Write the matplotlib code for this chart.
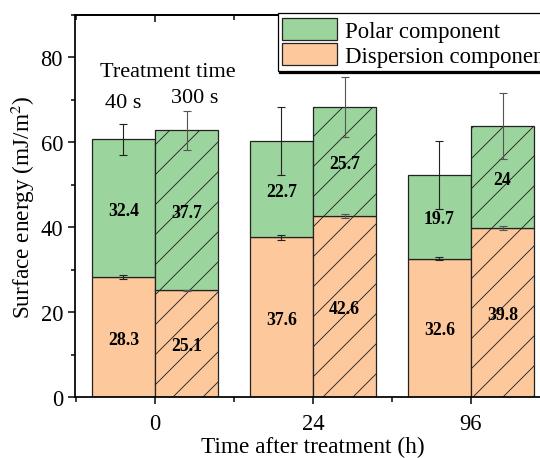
"""
Surface energy of treated samples split into polar and dispersion parts,
for two treatment times, measured at several times after treatment.
"""
import numpy as np
import matplotlib.pyplot as plt
from matplotlib.patches import Patch
from matplotlib.ticker import MultipleLocator

# Hours after treatment (x categories)
HOURS = ["0", "24", "96"]

# Dispersion component (mJ/m2) and its error
DISP_40 = [28.3, 37.6, 32.6]
DISP_300 = [25.1, 42.6, 39.8]
DISP_40_ERR = [0.4, 0.5, 0.4]
DISP_300_ERR = [0.2, 0.5, 0.4]

# Polar component (mJ/m2); error is on the total surface energy
POLAR_40 = [32.4, 22.7, 19.7]
POLAR_300 = [37.7, 25.7, 24.0]
TOTAL_40_ERR = [3.6, 8.1, 8.0]
TOTAL_300_ERR = [4.5, 7.1, 7.8]

GREEN = "#9bd49c"
ORANGE = "#fdc89c"

plt.rcParams["font.family"] = ["Liberation Serif", "DejaVu Serif"]
plt.rcParams["mathtext.fontset"] = "stix"
plt.rcParams["hatch.linewidth"] = 0.35
plt.rcParams["hatch.color"] = "#333333"


def draw_series(ax, xpos, disp, polar, disp_err, total_err, hatch, err_color):
    """ Draws one stacked bar series with its error bars and value labels.
    """
    width = 0.4
    ax.bar(xpos, disp, width, color=ORANGE, edgecolor="#222222",
           linewidth=0.5, hatch=hatch, align="edge")
    ax.bar(xpos, polar, width, bottom=disp, color=GREEN, edgecolor="#222222",
           linewidth=0.5, hatch=hatch, align="edge")
    centers = xpos + width / 2
    totals = np.array(disp) + np.array(polar)
    ax.errorbar(centers, disp, yerr=disp_err, fmt="none", ecolor=err_color,
                elinewidth=0.45, capsize=1.6, capthick=0.45)
    ax.errorbar(centers, totals, yerr=total_err, fmt="none", ecolor=err_color,
                elinewidth=0.45, capsize=1.6, capthick=0.45)
    for cx, d, p in zip(centers, disp, polar):
        ax.text(cx, d / 2 - 0.5, f"{d:g}", ha="center", va="center",
                fontsize=7.1, fontweight="bold")
        ax.text(cx, d + p / 2 - 0.5, f"{p:g}", ha="center", va="center",
                fontsize=7.1, fontweight="bold")


fig = plt.figure(figsize=(3.0, 2.55), dpi=180)
ax = fig.add_axes([0.1389, 0.1329, 0.8795, 0.8322])

x = np.arange(len(HOURS))
draw_series(ax, x - 0.4, DISP_40, POLAR_40, DISP_40_ERR, TOTAL_40_ERR,
            None, "#222222")
draw_series(ax, x, DISP_300, POLAR_300, DISP_300_ERR, TOTAL_300_ERR,
            "//", "#555555")

ax.set_xlim(-0.506, 2.5)
ax.set_ylim(0, 90)
ax.set_xticks(x)
ax.set_xticklabels(HOURS)
ax.xaxis.set_minor_locator(MultipleLocator(0.5))
ax.yaxis.set_major_locator(MultipleLocator(20))
ax.yaxis.set_minor_locator(MultipleLocator(10))
ax.tick_params(axis="both", which="major", labelsize=9, width=0.6,
               length=2.8, direction="out", pad=2)
ax.tick_params(axis="x", which="major", pad=3.5)
ax.tick_params(axis="both", which="minor", width=0.6, length=1.8,
               direction="out")
for spine in ax.spines.values():
    spine.set_linewidth(0.7)

# top ticks point into the plot
secx = ax.secondary_xaxis("top")
secx.set_xticks(x)
secx.xaxis.set_minor_locator(MultipleLocator(0.5))
secx.tick_params(which="major", direction="in", length=2.8, width=0.6,
                 labeltop=False)
secx.tick_params(which="minor", direction="in", length=1.8, width=0.6)
secx.spines["top"].set_linewidth(0.7)

ax.set_xlabel("Time after treatment (h)", fontsize=9.3, labelpad=1)
ax.set_ylabel("Surface energy (mJ/m$^2$)", fontsize=9.3, labelpad=1.5)

ax.text(0.08, 76.7, "Treatment time", ha="center", va="center", fontsize=8.9)
ax.text(-0.2, 69.4, "40 s", ha="center", va="center", fontsize=8.9)
ax.text(0.25, 70.6, "300 s", ha="center", va="center", fontsize=8.9)

handles = [Patch(facecolor=GREEN, edgecolor="#222222", linewidth=0.5),
           Patch(facecolor=ORANGE, edgecolor="#222222", linewidth=0.5)]
leg = ax.legend(handles, ["Polar component", "Dispersion component"],
                loc="upper left", bbox_to_anchor=(0.427, 1.005),
                fontsize=9.1, frameon=True, fancybox=False,
                shadow={"ox": 0.6, "oy": -0.8, "color": "black", "alpha": 1},
                edgecolor="black", framealpha=1, borderaxespad=0,
                handlelength=2.4, handleheight=1.15, labelspacing=0.05,
                handletextpad=0.35, borderpad=0.2)
leg.get_frame().set_linewidth(0.5)

fig.savefig("out.png", dpi=180)
